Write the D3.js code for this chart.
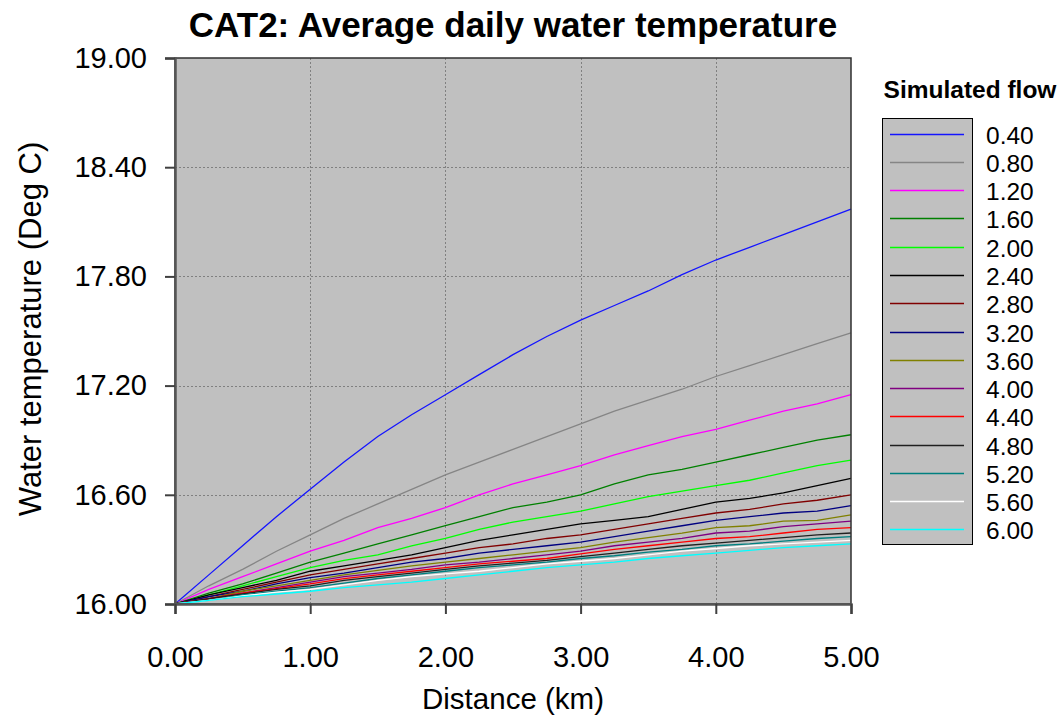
<!DOCTYPE html>
<html>
<head>
<meta charset="utf-8">
<script src="https://cdn.jsdelivr.net/npm/d3@7"></script>
<style>
  html, body { margin: 0; padding: 0; background: #ffffff; }
  svg { display: block; font-family: "Liberation Sans", Arial, sans-serif; }
</style>
</head>
<body>
<svg id="chart" width="1062" height="720"></svg>
<script>
// Distance along the reach (km)
const distance = [0, 0.25, 0.5, 0.75, 1, 1.25, 1.5, 1.75, 2, 2.25, 2.5, 2.75, 3, 3.25, 3.5, 3.75, 4, 4.25, 4.5, 4.75, 5];

// Simulated flow values, one per series
const flows = [0.40, 0.80, 1.20, 1.60, 2.00, 2.40, 2.80, 3.20, 3.60, 4.00, 4.40, 4.80, 5.20, 5.60, 6.00];

const seriesColors = ["#1414ff", "#858585", "#ff00ff", "#008000", "#00ff00", "#000000", "#800000", "#000080",
                      "#808000", "#800080", "#ff0000", "#202020", "#008080", "#ffffff", "#00ffff"];

// Average daily water temperature (Deg C) for each flow
const temp040 = [16.00, 16.16, 16.32, 16.48, 16.63, 16.78, 16.92, 17.04, 17.15, 17.26, 17.37, 17.47, 17.56, 17.64, 17.72, 17.81, 17.89, 17.96, 18.03, 18.10, 18.17];
const temp080 = [16.00, 16.10, 16.19, 16.29, 16.38, 16.47, 16.55, 16.63, 16.71, 16.78, 16.85, 16.92, 16.99, 17.06, 17.12, 17.18, 17.25, 17.31, 17.37, 17.43, 17.49];
const temp120 = [16.00, 16.08, 16.15, 16.22, 16.29, 16.35, 16.42, 16.47, 16.53, 16.60, 16.66, 16.71, 16.76, 16.82, 16.87, 16.92, 16.96, 17.01, 17.06, 17.10, 17.15];
const temp160 = [16.00, 16.06, 16.11, 16.17, 16.23, 16.28, 16.33, 16.38, 16.43, 16.48, 16.53, 16.56, 16.60, 16.66, 16.71, 16.74, 16.78, 16.82, 16.86, 16.90, 16.93];
const temp200 = [16.00, 16.05, 16.10, 16.15, 16.20, 16.24, 16.27, 16.32, 16.36, 16.41, 16.45, 16.48, 16.51, 16.55, 16.59, 16.62, 16.65, 16.68, 16.72, 16.76, 16.79];
const temp240 = [16.00, 16.05, 16.09, 16.13, 16.18, 16.21, 16.24, 16.27, 16.31, 16.35, 16.38, 16.41, 16.44, 16.46, 16.48, 16.52, 16.56, 16.58, 16.61, 16.65, 16.69];
const temp280 = [16.00, 16.04, 16.08, 16.12, 16.16, 16.19, 16.22, 16.25, 16.28, 16.31, 16.33, 16.36, 16.38, 16.41, 16.44, 16.47, 16.50, 16.52, 16.55, 16.57, 16.60];
const temp320 = [16.00, 16.04, 16.07, 16.11, 16.145, 16.17, 16.20, 16.23, 16.25, 16.28, 16.30, 16.32, 16.34, 16.37, 16.40, 16.43, 16.46, 16.48, 16.50, 16.51, 16.54];
const temp360 = [16.00, 16.03, 16.07, 16.10, 16.13, 16.16, 16.185, 16.21, 16.23, 16.25, 16.27, 16.29, 16.31, 16.34, 16.365, 16.39, 16.42, 16.43, 16.455, 16.46, 16.49];
const temp400 = [16.00, 16.03, 16.06, 16.09, 16.12, 16.15, 16.17, 16.19, 16.215, 16.23, 16.25, 16.27, 16.29, 16.32, 16.34, 16.36, 16.39, 16.40, 16.425, 16.44, 16.455];
const temp440 = [16.00, 16.03, 16.06, 16.085, 16.11, 16.14, 16.16, 16.18, 16.20, 16.22, 16.235, 16.25, 16.275, 16.30, 16.32, 16.34, 16.36, 16.37, 16.39, 16.41, 16.42];
const temp480 = [16.00, 16.03, 16.055, 16.08, 16.10, 16.13, 16.15, 16.17, 16.19, 16.21, 16.225, 16.24, 16.26, 16.28, 16.30, 16.32, 16.335, 16.35, 16.365, 16.38, 16.39];
const temp520 = [16.00, 16.02, 16.05, 16.07, 16.09, 16.115, 16.14, 16.16, 16.18, 16.20, 16.215, 16.23, 16.25, 16.265, 16.285, 16.30, 16.32, 16.33, 16.345, 16.36, 16.37];
const temp560 = [16.00, 16.02, 16.045, 16.065, 16.08, 16.105, 16.13, 16.15, 16.165, 16.18, 16.20, 16.22, 16.235, 16.25, 16.27, 16.29, 16.305, 16.32, 16.33, 16.34, 16.35];
const temp600 = [16.00, 16.02, 16.04, 16.055, 16.07, 16.09, 16.105, 16.12, 16.14, 16.16, 16.18, 16.20, 16.215, 16.23, 16.25, 16.265, 16.28, 16.295, 16.31, 16.32, 16.33];

const temperatures = [temp040, temp080, temp120, temp160, temp200, temp240, temp280, temp320,
                      temp360, temp400, temp440, temp480, temp520, temp560, temp600];

const xTicks = [0, 1, 2, 3, 4, 5];
const yTicks = [16.0, 16.6, 17.2, 17.8, 18.4, 19.0];

const svg = d3.select("#chart");
const plot = { left: 175, top: 58, right: 851, bottom: 604 };

const x = d3.scaleLinear().domain([0, 5]).range([plot.left, plot.right]);
const y = d3.scaleLinear().domain([16, 19]).range([plot.bottom, plot.top]);

// Plot background
svg.append("rect")
  .attr("x", plot.left).attr("y", plot.top)
  .attr("width", plot.right - plot.left).attr("height", plot.bottom - plot.top)
  .attr("fill", "#c0c0c0");

// Dotted grid
const grid = svg.append("g").attr("stroke", "#808080").attr("stroke-width", 1).attr("stroke-dasharray", "2,2");
grid.selectAll("line.gx").data(xTicks.slice(1, -1)).join("line")
  .attr("x1", d => Math.round(x(d)) + 0.5).attr("x2", d => Math.round(x(d)) + 0.5)
  .attr("y1", plot.top).attr("y2", plot.bottom);
grid.selectAll("line.gy").data(yTicks.slice(1, -1)).join("line")
  .attr("y1", d => Math.round(y(d)) + 0.5).attr("y2", d => Math.round(y(d)) + 0.5)
  .attr("x1", plot.left).attr("x2", plot.right);

// Series lines
const line = d3.line().x((d, i) => x(distance[i])).y(d => y(d));
svg.append("g").selectAll("path").data(temperatures).join("path")
  .attr("d", d => line(d))
  .attr("fill", "none")
  .attr("stroke", (d, i) => seriesColors[i])
  .attr("stroke-width", 1.3);

// Frame
svg.append("rect")
  .attr("x", plot.left).attr("y", plot.top)
  .attr("width", plot.right - plot.left).attr("height", plot.bottom - plot.top)
  .attr("fill", "none").attr("stroke", "#303030").attr("stroke-width", 1.5);

// Axes
const yAxis = d3.axisLeft(y).tickValues(yTicks).tickFormat(d3.format(".2f")).tickSize(10).tickPadding(18);
const gy = svg.append("g").attr("transform", `translate(${plot.left},0)`).call(yAxis);
const xAxis = d3.axisBottom(x).tickValues(xTicks).tickFormat(d3.format(".2f")).tickSize(10).tickPadding(32);
const gx = svg.append("g").attr("transform", `translate(0,${plot.bottom})`).call(xAxis);
[gy, gx].forEach(g => {
  g.select(".domain").attr("stroke", "#555555").attr("stroke-width", 2.5);
  g.selectAll(".tick line").attr("stroke", "#404040").attr("stroke-width", 2);
  g.selectAll(".tick text").attr("font-size", 29).attr("fill", "#000")
    .attr("font-family", "'Liberation Sans', Arial, sans-serif");
});

// Titles
svg.append("text")
  .attr("x", (plot.left + plot.right) / 2).attr("y", 37)
  .attr("text-anchor", "middle").attr("font-size", 35).attr("font-weight", "bold")
  .text("CAT2: Average daily water temperature");

svg.append("text")
  .attr("x", (plot.left + plot.right) / 2).attr("y", 709)
  .attr("text-anchor", "middle").attr("font-size", 29.5)
  .text("Distance (km)");

svg.append("text")
  .attr("transform", `translate(41,329) rotate(-90)`)
  .attr("text-anchor", "middle").attr("font-size", 31)
  .text("Water temperature (Deg C)");

// Legend
svg.append("text")
  .attr("x", 970).attr("y", 98)
  .attr("text-anchor", "middle").attr("font-size", 24.5).attr("font-weight", "bold")
  .text("Simulated flow");

svg.append("rect")
  .attr("x", 882.5).attr("y", 118.5).attr("width", 90).attr("height", 426)
  .attr("fill", "#c0c0c0").attr("stroke", "#000").attr("stroke-width", 1);

const rowY = d3.scaleLinear().domain([0, flows.length - 1]).range([133.7, 529.3]);
const legendRows = svg.append("g").selectAll("g").data(flows).join("g")
  .attr("transform", (d, i) => `translate(0,${Math.round(rowY(i)) + 0.5})`);
legendRows.append("line")
  .attr("x1", 890).attr("x2", 964)
  .attr("stroke", (d, i) => seriesColors[i]).attr("stroke-width", 1.3);
legendRows.append("text")
  .attr("x", 986).attr("y", 9)
  .attr("font-size", 24.5)
  .text(d => d3.format(".2f")(d));
</script>
</body>
</html>
